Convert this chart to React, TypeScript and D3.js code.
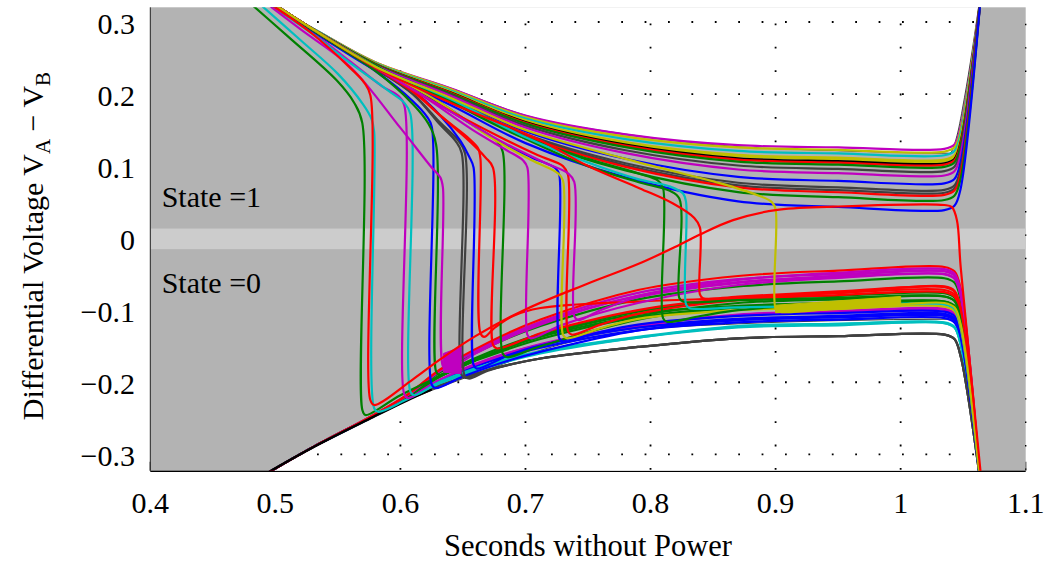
import React from 'react';
import * as d3 from 'd3';

type P = [number, number];

// ---------- axes ----------
const X_TICKS = [0.4, 0.5, 0.6, 0.7, 0.8, 0.9, 1.0, 1.1];
const X_TICK_LABELS = ['0.4', '0.5', '0.6', '0.7', '0.8', '0.9', '1', '1.1'];
const Y_TICKS = [-0.3, -0.2, -0.1, 0, 0.1, 0.2, 0.3];
const Y_TICK_LABELS = ['\u22120.3', '\u22120.2', '\u22120.1', '0', '0.1', '0.2', '0.3'];

// MATLAB colour order
const COL: Record<string, string> = {
  b: '#0000ff', g: '#008000', r: '#ff0000', c: '#00bfbf',
  m: '#bf00bf', y: '#bfbf00', k: '#404040', K: '#000000',
};

// ---------- shaded regions ----------
// bottom edge of the upper white region
const UPPER_EDGE: P[] = [
  [0.488, 0.3315], [0.49, 0.3295], [0.53, 0.2915], [0.58, 0.2445], [0.64, 0.2085],
  [0.70, 0.1705], [0.78, 0.1445], [0.87, 0.127], [0.95, 0.1215], [1.039, 0.118],
  [1.045, 0.142], [1.051, 0.195], [1.0635, 0.335],
];
// top edge of the lower white region
const LOWER_EDGE: P[] = [
  [0.484, -0.335], [0.53, -0.2905], [0.578, -0.2485], [0.605, -0.2255], [0.64, -0.2015],
  [0.68, -0.176], [0.7116, -0.156], [0.79, -0.128], [0.87, -0.119], [0.95, -0.1145],
  [1.039, -0.1125], [1.046, -0.122], [1.05, -0.16], [1.0635, -0.335],
];
const BAND = [-0.0153, 0.0133];

// ---------- traces that stay in state 1 ----------
const STAY1_X = [0.49, 0.53, 0.58, 0.64, 0.70, 0.78, 0.87, 0.95, 1.035];
const STAY1: { c: string; y: number[] }[] = [
  { c: 'm', y: [0.329, 0.291, 0.244, 0.208, 0.17, 0.144, 0.129, 0.126, 0.124] },
  { c: 'y', y: [0.329, 0.291, 0.244, 0.207, 0.168, 0.141, 0.126, 0.1225, 0.12] },
  { c: 'c', y: [0.329, 0.291, 0.243, 0.205, 0.166, 0.1375, 0.121, 0.1176, 0.115] },
  { c: 'y', y: [0.329, 0.29, 0.242, 0.2036, 0.1634, 0.1333, 0.1155, 0.1117, 0.109] },
  { c: 'y', y: [0.329, 0.29, 0.242, 0.203, 0.1625, 0.1319, 0.1137, 0.1098, 0.107] },
  { c: 'K', y: [0.329, 0.29, 0.2417, 0.2023, 0.1611, 0.1298, 0.1109, 0.1069, 0.104] },
  { c: 'r', y: [0.329, 0.29, 0.2415, 0.2017, 0.1602, 0.1284, 0.1091, 0.1049, 0.102] },
  { c: 'g', y: [0.329, 0.2899, 0.2411, 0.2009, 0.1589, 0.1263, 0.1063, 0.102, 0.099] },
  { c: 'k', y: [0.329, 0.2896, 0.2403, 0.1993, 0.1562, 0.122, 0.1008, 0.0961, 0.093] },
  { c: 'm', y: [0.329, 0.2893, 0.2395, 0.1977, 0.1535, 0.1179, 0.0953, 0.0902, 0.087] },
  { c: 'b', y: [0.329, 0.2887, 0.2381, 0.1947, 0.1485, 0.1102, 0.0851, 0.0794, 0.076] },
  { c: 'k', y: [0.329, 0.2883, 0.2369, 0.1923, 0.1445, 0.1039, 0.0769, 0.0706, 0.067] },
  { c: 'k', y: [0.329, 0.2881, 0.2364, 0.1912, 0.1427, 0.101, 0.0732, 0.0667, 0.063] },
  { c: 'r', y: [0.329, 0.2879, 0.236, 0.1904, 0.1413, 0.0989, 0.0704, 0.0637, 0.06] },
  { c: 'g', y: [0.329, 0.2876, 0.2351, 0.1885, 0.1382, 0.094, 0.064, 0.0569, 0.053] },
  { c: 'b', y: [0.329, 0.2869, 0.2333, 0.1847, 0.1319, 0.0843, 0.0511, 0.0432, 0.039] },
];
// final steep rise: [x, offset from the last level], then the exit point
const RISE_END: P[] = [[1.043, 0.006], [1.048, 0.03]];
const RISE_EXIT: P = [1.064, 0.335];

// ---------- traces that stay in state 0 ----------
const STAY0_X = [0.485, 0.53, 0.578, 0.605, 0.632, 0.67, 0.712, 0.79, 0.87, 0.95, 1.035];
const STAY0: { c: string; y: number[] }[] = [
  { c: 'k', y: [-0.335, -0.29, -0.248, -0.225, -0.204, -0.183, -0.167, -0.151, -0.139, -0.136, -0.134] },
  { c: 'c', y: [-0.335, -0.29, -0.248, -0.224, -0.2, -0.177, -0.158, -0.138, -0.124, -0.121, -0.118] },
  { c: 'b', y: [-0.335, -0.29, -0.248, -0.223, -0.199, -0.172, -0.152, -0.128, -0.117, -0.113, -0.111] },
  { c: 'b', y: [-0.335, -0.29, -0.247, -0.223, -0.197, -0.17, -0.149, -0.124, -0.112, -0.109, -0.1067] },
  { c: 'm', y: [-0.335, -0.29, -0.247, -0.222, -0.196, -0.169, -0.147, -0.122, -0.107, -0.102, -0.0997] },
  { c: 'g', y: [-0.335, -0.29, -0.247, -0.221, -0.192, -0.162, -0.137, -0.108, -0.09, -0.085, -0.081] },
  { c: 'g', y: [-0.335, -0.29, -0.247, -0.221, -0.19, -0.159, -0.133, -0.102, -0.085, -0.08, -0.0765] },
  { c: 'g', y: [-0.335, -0.29, -0.246, -0.219, -0.186, -0.151, -0.122, -0.085, -0.067, -0.06, -0.0557] },
  { c: 'm', y: [-0.335, -0.29, -0.246, -0.219, -0.184, -0.149, -0.118, -0.08, -0.061, -0.054, -0.05] },
  { c: 'm', y: [-0.335, -0.29, -0.246, -0.218, -0.183, -0.147, -0.116, -0.076, -0.057, -0.05, -0.046] },
  { c: 'r', y: [-0.335, -0.29, -0.246, -0.218, -0.182, -0.145, -0.113, -0.072, -0.0525, -0.045, -0.04] },
];
// the black trace that is only visible along the bottom-left edge
const BLACK_EDGE: P[] = [[0.484, -0.3355], [0.53, -0.2905], [0.578, -0.2485], [0.605, -0.2255], [0.625, -0.21]];
const FALL_END: P[] = [[1.043, -0.006], [1.048, -0.03]];
const FALL_EXIT: P = [1.0635, -0.335];

// ---------- traces that flip 1 -> 0 ----------
const FLIPS: { c: string; p: P[] }[] = [
  { c: 'g', p: [[0.474, 0.335], [0.51, 0.28], [0.549, 0.219], [0.563, 0.188], [0.5695, 0.16], [0.5695, -0.238], [0.572, -0.2455], [0.6, -0.218], [0.64, -0.185], [0.7, -0.142], [0.79, -0.105], [0.87, -0.094], [0.95, -0.09], [1.035, -0.088]] },
  { c: 'c', p: [[0.481, 0.335], [0.52, 0.275], [0.55, 0.228], [0.57, 0.186], [0.577, 0.165], [0.579, 0.148], [0.579, -0.236], [0.582, -0.241], [0.605, -0.224], [0.632, -0.201], [0.67, -0.179], [0.712, -0.16], [0.79, -0.138], [0.87, -0.123], [0.95, -0.119], [1.035, -0.117]] },
  { c: 'm', p: [[0.487, 0.335], [0.53, 0.285], [0.56, 0.245], [0.586, 0.21], [0.598, 0.198], [0.603, 0.185], [0.603, -0.216], [0.606, -0.222], [0.632, -0.196], [0.67, -0.168], [0.712, -0.148], [0.79, -0.122], [0.87, -0.106], [0.95, -0.101], [1.035, -0.098]] },
  { c: 'c', p: [[0.486, 0.335], [0.53, 0.283], [0.56, 0.243], [0.59, 0.205], [0.603, 0.188], [0.608, 0.172], [0.608, -0.213], [0.611, -0.218], [0.632, -0.199], [0.67, -0.175], [0.712, -0.157], [0.79, -0.137], [0.87, -0.122], [0.95, -0.119], [1.035, -0.118]] },
  { c: 'b', p: [[0.489, 0.335], [0.53, 0.287], [0.58, 0.232], [0.61, 0.19], [0.621, 0.169], [0.625, 0.155], [0.625, -0.203], [0.628, -0.208], [0.65, -0.192], [0.69, -0.168], [0.74, -0.146], [0.79, -0.128], [0.87, -0.113], [0.95, -0.108], [1.035, -0.105]] },
  { c: 'g', p: [[0.49, 0.335], [0.53, 0.288], [0.58, 0.232], [0.61, 0.186], [0.622, 0.16], [0.6285, 0.13], [0.6285, -0.185], [0.631, -0.19], [0.66, -0.17], [0.712, -0.14], [0.79, -0.11], [0.87, -0.096], [0.95, -0.092], [1.035, -0.09]] },
  { c: 'm', p: [[0.486, 0.335], [0.52, 0.29], [0.5598, 0.238], [0.6, 0.153], [0.625, 0.098], [0.632, 0.084], [0.634, 0.07], [0.634, -0.178], [0.637, -0.183], [0.66, -0.16], [0.712, -0.12], [0.79, -0.08], [0.87, -0.058], [0.95, -0.048], [1.035, -0.043]] },
  { c: 'k', p: [[0.49, 0.335], [0.53, 0.29], [0.58, 0.235], [0.61, 0.2], [0.632, 0.157], [0.644, 0.135], [0.649, 0.118], [0.649, -0.19], [0.652, -0.194], [0.67, -0.183], [0.712, -0.167], [0.79, -0.151], [0.87, -0.139], [0.95, -0.136], [1.035, -0.134]] },
  { c: 'k', p: [[0.49, 0.335], [0.53, 0.29], [0.58, 0.236], [0.61, 0.2], [0.632, 0.16], [0.646, 0.136], [0.6516, 0.118], [0.6516, -0.192], [0.655, -0.195], [0.67, -0.184], [0.712, -0.167], [0.79, -0.151], [0.87, -0.139], [0.95, -0.136], [1.035, -0.134]] },
  { c: 'b', p: [[0.49, 0.335], [0.53, 0.29], [0.58, 0.238], [0.61, 0.205], [0.632, 0.17], [0.648, 0.135], [0.655, 0.113], [0.6585, 0.098], [0.6585, -0.176], [0.661, -0.181], [0.69, -0.16], [0.74, -0.138], [0.79, -0.124], [0.87, -0.114], [0.95, -0.11], [1.035, -0.108]] },
  { c: 'r', p: [[0.49, 0.335], [0.53, 0.29], [0.58, 0.237], [0.61, 0.205], [0.632, 0.17], [0.655, 0.138], [0.662, 0.125], [0.664, 0.11], [0.664, -0.132], [0.667, -0.137], [0.675, -0.125], [0.69, -0.108], [0.712, -0.097], [0.79, -0.088], [0.87, -0.083], [0.95, -0.076], [1.035, -0.067]] },
  { c: 'r', p: [[0.49, 0.335], [0.53, 0.29], [0.58, 0.236], [0.61, 0.203], [0.632, 0.17], [0.655, 0.135], [0.668, 0.112], [0.674, 0.098], [0.674, -0.148], [0.677, -0.153], [0.7, -0.14], [0.712, -0.132], [0.79, -0.1], [0.87, -0.083], [0.95, -0.076], [1.035, -0.072]] },
  { c: 'g', p: [[0.49, 0.335], [0.53, 0.29], [0.58, 0.24], [0.61, 0.21], [0.632, 0.185], [0.66, 0.155], [0.677, 0.135], [0.6818, 0.12], [0.6818, -0.16], [0.685, -0.165], [0.712, -0.15], [0.79, -0.113], [0.87, -0.096], [0.95, -0.092], [1.035, -0.09]] },
  { c: 'm', p: [[0.49, 0.335], [0.53, 0.29], [0.58, 0.238], [0.62, 0.195], [0.658, 0.15], [0.685, 0.122], [0.698, 0.108], [0.7015, 0.098], [0.7015, -0.134], [0.704, -0.139], [0.73, -0.12], [0.79, -0.09], [0.87, -0.065], [0.95, -0.055], [1.035, -0.05]] },
  { c: 'b', p: [[0.49, 0.335], [0.53, 0.29], [0.58, 0.238], [0.63, 0.19], [0.672, 0.141], [0.705, 0.112], [0.724, 0.097], [0.727, 0.088], [0.727, -0.139], [0.73, -0.1437], [0.76, -0.13], [0.79, -0.12], [0.87, -0.108], [0.95, -0.104], [1.035, -0.102]] },
  { c: 'y', p: [[0.49, 0.335], [0.53, 0.29], [0.58, 0.238], [0.63, 0.19], [0.672, 0.14], [0.705, 0.108], [0.726, 0.09], [0.73, 0.08], [0.73, -0.134], [0.733, -0.139], [0.76, -0.125], [0.79, -0.112], [0.87, -0.1], [0.95, -0.096], [1.035, -0.095]] },
  { c: 'r', p: [[0.49, 0.335], [0.53, 0.29], [0.58, 0.237], [0.63, 0.186], [0.68, 0.14], [0.71, 0.115], [0.73, 0.1], [0.734, 0.088], [0.734, -0.129], [0.737, -0.134], [0.76, -0.12], [0.79, -0.105], [0.87, -0.086], [0.95, -0.079], [1.035, -0.075]] },
  { c: 'm', p: [[0.49, 0.335], [0.53, 0.29], [0.58, 0.237], [0.63, 0.186], [0.68, 0.135], [0.715, 0.105], [0.734, 0.09], [0.739, 0.078], [0.739, -0.108], [0.742, -0.1136], [0.76, -0.1], [0.79, -0.082], [0.87, -0.062], [0.95, -0.052], [1.035, -0.046]] },
  { c: 'g', p: [[0.49, 0.335], [0.53, 0.29], [0.58, 0.238], [0.64, 0.19], [0.7, 0.14], [0.75, 0.11], [0.79, 0.09], [0.806, 0.08], [0.81, 0.07], [0.81, -0.111], [0.813, -0.116], [0.84, -0.108], [0.87, -0.1], [0.95, -0.091], [1.035, -0.088]] },
  { c: 'g', p: [[0.49, 0.335], [0.53, 0.29], [0.58, 0.238], [0.64, 0.192], [0.7, 0.138], [0.75, 0.1], [0.79, 0.078], [0.815, 0.066], [0.823, 0.055], [0.823, -0.083], [0.826, -0.088], [0.87, -0.086], [0.95, -0.083], [1.035, -0.081]] },
  { c: 'c', p: [[0.49, 0.335], [0.53, 0.29], [0.58, 0.238], [0.64, 0.193], [0.7, 0.14], [0.75, 0.105], [0.79, 0.082], [0.815, 0.072], [0.826, 0.062], [0.8284, 0.05], [0.8284, -0.092], [0.831, -0.097], [0.87, -0.096], [0.95, -0.094], [1.035, -0.092]] },
  { c: 'r', p: [[0.49, 0.335], [0.53, 0.29], [0.58, 0.237], [0.64, 0.188], [0.7116, 0.136], [0.75, 0.1], [0.7915, 0.069], [0.818, 0.048], [0.835, 0.028], [0.8395, 0.015], [0.8395, -0.078], [0.842, -0.0835], [0.87, -0.081], [0.95, -0.074], [1.035, -0.068]] },
  { c: 'y', p: [[0.49, 0.335], [0.53, 0.29], [0.58, 0.238], [0.64, 0.195], [0.7, 0.15], [0.78, 0.11], [0.856, 0.076], [0.885, 0.06], [0.897, 0.05], [0.9, 0.04], [0.9, -0.098], [0.903, -0.102], [0.95, -0.097], [1.0, -0.092], [1.035, -0.09]] },
];

// ---------- the trace that slowly flips 0 -> 1 ----------
const SLOW_FLIP: P[] = [
  [0.487, 0.335], [0.53, 0.283], [0.56, 0.236], [0.571, 0.216], [0.576, 0.198], [0.576, -0.225],
  [0.579, -0.2316], [0.61, -0.196], [0.632, -0.168], [0.66, -0.136], [0.7, -0.099], [0.75, -0.063],
  [0.79, -0.036], [0.82, -0.012], [0.8395, 0.005], [0.866, 0.025], [0.9, 0.039], [0.946, 0.0437],
  [1.035, 0.046], [1.041, 0.043], [1.045, 0.025], [1.048, -0.04], [1.0645, -0.335],
];

// oscillating blobs
const BLOB_M: P[] = [[0.6345, -0.186], [0.6345, -0.16], [0.6485, -0.151], [0.6485, -0.188]];
const BLOB_Y: P[] = [[0.9, -0.093], [1.0, -0.081], [1.0, -0.095], [0.9, -0.1035]];

// ---------- layout ----------
const W = 1047, H = 564;
const PL = 150.3, PR = 1025.7, PT = 7.3, PB = 470.7;
const FONT = '"Liberation Serif", "Times New Roman", Times, serif';
const LW = 2.2;

export default function App() {
  const x = d3.scaleLinear().domain([0.4, 1.1]).range([PL, PR]);
  const y = d3.scaleLinear().domain([-0.3, 0.3]).range([454.3, 22.0]);

  const curve = d3.line<P>().x(d => x(d[0])).y(d => y(d[1])).curve(d3.curveCatmullRom.alpha(0.5));
  const edge = d3.line<P>().x(d => x(d[0])).y(d => y(d[1])).curve(d3.curveMonotoneX);
  const poly = (pts: P[]) => 'M' + pts.map(p => `${x(p[0])},${y(p[1])}`).join('L') + 'Z';

  const upHole = `${edge(UPPER_EDGE)}L${x(1.08)},${PT - 20}L${x(0.47)},${PT - 20}Z`;
  const loHole = `${edge(LOWER_EDGE)}L${x(1.08)},${PB + 20}L${x(0.47)},${PB + 20}Z`;

  const stay1 = STAY1.map(s => {
    const pts: P[] = STAY1_X.map((xx, i) => [xx, s.y[i]] as P);
    const L = s.y[s.y.length - 1];
    RISE_END.forEach(([xx, dy]) => pts.push([xx, L + dy]));
    pts.push(RISE_EXIT);
    return { c: s.c, d: curve(pts) as string };
  });
  const withFall = (pts: P[]) => {
    const L = pts[pts.length - 1][1];
    const out = pts.slice();
    FALL_END.forEach(([xx, dy]) => out.push([xx, L + dy]));
    out.push(FALL_EXIT);
    return out;
  };
  const stay0 = STAY0.map(s => ({ c: s.c, d: curve(withFall(STAY0_X.map((xx, i) => [xx, s.y[i]] as P))) as string }));
  const flips = FLIPS.map(f => ({ c: f.c, d: curve(withFall(f.p)) as string }));

  const gridV = X_TICKS.map(t => `M${x(t)},${PB}V${PT}`).join('');
  const gridH = Y_TICKS.map(t => `M${PL},${y(t)}H${PR}`).join('');

  return (
    <svg width={W} height={H} style={{ position: 'absolute', left: 0, top: 0, background: '#fff' }}
      fontFamily={FONT}>
      <defs>
        <clipPath id="plot"><rect x={PL} y={PT} width={PR - PL} height={PB - PT} /></clipPath>
        <clipPath id="holes"><path d={upHole} /><path d={loHole} /></clipPath>
      </defs>
      <rect x={0} y={0} width={W} height={H} fill="#fff" />
      {X_TICKS.map(t => (
        <line key={'t' + t} x1={x(t)} x2={x(t)} y1={PB} y2={PB - 9} stroke="#000" strokeWidth={1.2} />
      ))}
      <line x1={PL} x2={PR} y1={PB + 0.2} y2={PB + 0.2} stroke="#000" strokeWidth={2.4} />
      <rect x={PL} y={PT} width={PR - PL} height={PB - PT} fill="#b3b3b3" />
      <g clipPath="url(#plot)">
        <path d={upHole} fill="#fff" stroke="#000" strokeWidth={0.7} />
        <path d={loHole} fill="#fff" stroke="#000" strokeWidth={0.7} />
        <g clipPath="url(#holes)">
          <path d={gridV} stroke="#000" strokeWidth={1.8} strokeDasharray="1.8,21.6" strokeDashoffset={-24.3} fill="none" />
          <path d={gridH} stroke="#000" strokeWidth={1.8} strokeDasharray="1.8,21.6" strokeDashoffset={-2.9} fill="none" />
        </g>
        <rect x={PL} y={y(BAND[1])} width={PR - PL} height={y(BAND[0]) - y(BAND[1])} fill="#cccccc" />
      </g>
      <path d={`M${x(1.1)},${PB}V${PT}`} stroke="#000" strokeWidth={1.4} strokeDasharray="1.4,22" strokeDashoffset={-24.3} fill="none" />
      <g clipPath="url(#plot)" fill="none" strokeWidth={LW} strokeLinejoin="round">
        {stay0.map((s, i) => <path key={'s0' + i} d={s.d} stroke={COL[s.c]} />)}
        <path d={curve(BLACK_EDGE) as string} stroke={COL.K} strokeWidth={2.5} />
        {stay1.map((s, i) => <path key={'s1' + i} d={s.d} stroke={COL[s.c]} />)}
        {flips.map((s, i) => <path key={'f' + i} d={s.d} stroke={COL[s.c]} />)}
        <path d={poly(BLOB_M)} fill={COL.m} stroke={COL.m} strokeWidth={1} />
        <path d={poly(BLOB_Y)} fill={COL.y} stroke={COL.y} strokeWidth={1} />
        <path d={curve(SLOW_FLIP) as string} stroke={COL.r} />
      </g>
      <line x1={PL} x2={PL} y1={PT} y2={PB} stroke="#222" strokeWidth={1} />
      <g fontSize={30} fill="#000">
        {Y_TICKS.map((t, i) => (
          <text key={'yl' + t} x={135} y={y(t) + 11.5} textAnchor="end">{Y_TICK_LABELS[i]}</text>
        ))}
        {X_TICKS.map((t, i) => (
          <text key={'xl' + t} x={x(t)} y={513} textAnchor="middle">{X_TICK_LABELS[i]}</text>
        ))}
        <text x={(PL + PR) / 2} y={556} textAnchor="middle" fontSize={30.5}>Seconds without Power</text>
        <text transform={`translate(43,246) rotate(-90)`} textAnchor="middle">
          Differential Voltage V<tspan dy={7} fontSize={21}>A</tspan><tspan dy={-7}> {'\u2212'} V</tspan><tspan dy={7} fontSize={21}>B</tspan>
        </text>
        <text x={161.7} y={206.7}>State =1</text>
        <text x={161.7} y={293.3}>State =0</text>
      </g>
    </svg>
  );
}
